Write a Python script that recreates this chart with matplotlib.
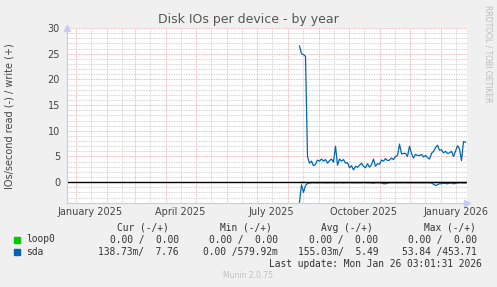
import matplotlib
matplotlib.use("Agg")
import matplotlib.pyplot as plt
import matplotlib.dates as mdates
import matplotlib.transforms as mtransforms
import numpy as np

# data: one point every 2 days, starting 2025-08-13
start_date = np.datetime64("2025-08-13")
step_days = 2
sda_write = [26.5, 25.0, 24.8, 24.5, 5.0, 3.7, 4.1, 3.2, 3.5, 4.3,
             4.1, 4.5, 4.1, 4.4, 3.7, 4.2, 4.5, 3.9, 7.0, 3.3,
             4.5, 4.1, 4.4, 3.7, 3.8, 2.8, 3.2, 2.4, 3.1, 2.9,
             3.3, 3.7, 3.1, 2.8, 3.6, 2.9, 3.4, 4.5, 3.1, 3.6,
             3.5, 4.3, 4.1, 4.6, 4.2, 4.3, 4.7, 4.4, 5.0, 5.2,
             7.4, 5.5, 5.6, 5.6, 5.0, 7.0, 5.6, 4.7, 5.4, 5.2,
             5.2, 5.4, 4.9, 5.2, 4.8, 4.5, 5.6, 6.0, 6.7, 7.2,
             6.2, 6.3, 5.7, 6.0, 5.6, 5.7, 6.0, 5.0, 6.0, 7.1,
             6.5, 4.2, 7.9, 7.8]
sda_read = [3.9, 0.5, 2.0, 0.65, 0.27, 0.15, 0.1, 0.08, 0.1, 0.12,
            0.1, 0.08, 0.1, 0.1, 0.12, 0.1, 0.08, 0.1, 0.1, 0.1,
            0.08, 0.1, 0.12, 0.1, 0.1, 0.08, 0.1, 0.1, 0.1, 0.12,
            0.1, 0.1, 0.08, 0.1, 0.12, 0.1, 0.15, 0.2, 0.1, 0.1,
            0.1, 0.15, 0.3, 0.3, 0.2, 0.1, 0.1, 0.1, 0.1, 0.12,
            0.1, 0.1, 0.08, 0.1, 0.1, 0.1, 0.12, 0.1, 0.1, 0.1,
            0.1, 0.1, 0.12, 0.1, 0.1, 0.1, 0.15, 0.4, 0.65, 0.5,
            0.3, 0.3, 0.2, 0.25, 0.3, 0.2, 0.15, 0.3, 0.25, 0.15,
            0.1, 0.12, 0.15, 0.14]
loop0 = [0.0] * len(sda_write)

x_start = np.datetime64("2024-12-23T12:00")
x_end = np.datetime64("2026-01-27T12:00")
label_months = ["2025-01-16", "2025-04-16", "2025-07-16", "2025-10-16", "2026-01-16"]
label_texts = ["January 2025", "April 2025", "July 2025", "October 2025", "January 2026"]

legend_names = ["loop0", "sda"]
legend_colors = ["#00CC00", "#0066B3"]
cur_col = ["0.00 /  0.00", "138.73m/  7.76"]
min_col = ["0.00 /  0.00", "0.00 /579.92m"]
avg_col = ["0.00 /  0.00", "155.03m/  5.49"]
max_col = ["0.00 /  0.00", "53.84 /453.71"]

dates = start_date + np.arange(len(sda_write)) * np.timedelta64(step_days, "D")
dates = dates.astype("datetime64[h]").astype(object)

W, H = 497, 287
fig = plt.figure(figsize=(W / 100, H / 100), dpi=100, facecolor="#F0F0F0")
ax = fig.add_axes([67 / W, 1 - 203 / H, 400 / W, 175 / H])
ax.set_facecolor("white")

ax.set_xlim(x_start.astype(object), x_end.astype(object))
ax.set_ylim(-4.05, 30)

# grids
ax.xaxis.set_major_locator(mdates.MonthLocator())
ax.xaxis.set_minor_locator(mdates.MonthLocator(bymonthday=16))
ax.yaxis.set_major_locator(plt.MultipleLocator(5))
ax.yaxis.set_minor_locator(plt.MultipleLocator(1))
ax.grid(which="minor", color="#c8c8c8", linestyle=(0, (1, 1)), linewidth=0.6)
ax.grid(which="major", color="#f0a0a0", linestyle=(0, (1, 1)), linewidth=0.6)
ax.set_axisbelow(True)
ax.tick_params(which="both", length=0)
ax.xaxis.set_major_formatter(plt.NullFormatter())
ax.tick_params(axis="y", labelsize=7, labelcolor="#444444", pad=5)
ax.set_yticks([0, 5, 10, 15, 20, 25, 30])

for s in ["top", "right"]:
    ax.spines[s].set_visible(False)
for s in ["left", "bottom"]:
    ax.spines[s].set_color("#c8c8f0")
    ax.spines[s].set_linewidth(0.8)
ax.plot([1.0], [0.0], marker=">", color="#c8c8f0", markersize=4, transform=ax.transAxes, clip_on=False)
ax.plot([0.0], [1.0], marker="^", color="#c8c8f0", markersize=4, transform=ax.transAxes, clip_on=False)

# series
ax.plot(dates, loop0, color=legend_colors[0], linewidth=1)
ax.plot(dates, -np.array(sda_read), color=legend_colors[1], linewidth=0.9)
ax.plot(dates, sda_write, color=legend_colors[1], linewidth=0.9)
ax.axhline(0, color="black", linewidth=1)

# x labels, centred mid-month like rrdtool
trans = mtransforms.blended_transform_factory(ax.transData, ax.transAxes)
for d, t in zip(label_months, label_texts):
    ax.text(np.datetime64(d).astype(object), -0.05, t, transform=trans,
            ha="center", va="center", fontsize=7, color="#444444")

fig.text(248 / W, 1 - 19 / H, "Disk IOs per device - by year", ha="center", va="center",
         fontsize=9, color="#555555")
fig.text(10 / W, 1 - 116 / H, "IOs/second read (-) / write (+)", rotation=90,
         ha="center", va="center", fontsize=7, color="#444444")
fig.text(488 / W, 1 - 54 / H, "RRDTOOL / TOBI OETIKER", rotation=270,
         ha="center", va="center", fontsize=5.5, color="#bbbbbb")

# legend table
mono = "DejaVu Sans Mono"
fs = 6.9
tc = "#333333"
heads = ["Cur (-/+)", "Min (-/+)", "Avg (-/+)", "Max (-/+)"]
col_right = [169, 272, 373, 476]
for h, xr in zip(heads, col_right):
    fig.text(xr / W, 1 - 228 / H, h, ha="right", va="center", family=mono, fontsize=fs, color=tc)
val_right = [179, 278, 378, 477]
for i, name in enumerate(legend_names):
    yy = 1 - (239.5 + i * 12.3) / H
    fig.patches.append(plt.Rectangle((14 / W, yy - 3 / H), 5.5 / W, 5.5 / H,
                                     transform=fig.transFigure, color=legend_colors[i]))
    fig.text(26.5 / W, yy, name, ha="left", va="center", family=mono, fontsize=fs, color=tc)
    for col, xr in zip([cur_col, min_col, avg_col, max_col], val_right):
        fig.text(xr / W, yy, col[i], ha="right", va="center", family=mono, fontsize=fs, color=tc)
fig.text(482 / W, 1 - 264 / H, "Last update: Mon Jan 26 03:01:31 2026", ha="right", va="center",
         family=mono, fontsize=fs, color=tc)
fig.text(248 / W, 1 - 276 / H, "Munin 2.0.75", ha="center", va="center", fontsize=5.5, color="#c0c0c0")

fig.savefig("out.png", dpi=100, facecolor=fig.get_facecolor())
